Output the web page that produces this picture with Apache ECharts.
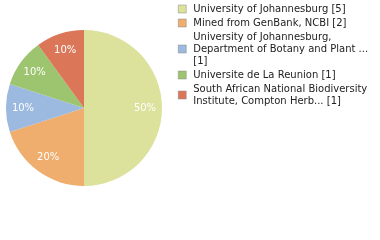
<!DOCTYPE html>
<html><head><meta charset="utf-8">
<script src="https://cdn.jsdelivr.net/npm/echarts@6/dist/echarts.min.js"></script>
<style>html,body{margin:0;padding:0;background:#fff}#c{width:380px;height:240px}</style>
</head><body><div id="c"></div>
<script>
var categories = [
  "University of Johannesburg",
  "Mined from GenBank, NCBI",
  "University of Johannesburg,\nDepartment of Botany and Plant ...\n",
  "Universite de La Reunion",
  "South African National Biodiversity\nInstitute, Compton Herb..."
];
var counts = [5, 2, 1, 1, 1];
var percentLabels = ["50%", "20%", "10%", "10%", "10%"];
var colors = ["#dce19c", "#efad6e", "#9cb9df", "#9dc46e", "#db7659"];

var data = categories.map(function (c, i) {
  return { name: c, value: counts[i], itemStyle: { color: colors[i] } };
});
var countByName = {};
categories.forEach(function (c, i) { countByName[c] = counts[i]; });

var chart = echarts.init(document.getElementById('c'), null, { renderer: 'canvas' });
chart.setOption({
  animation: false,
  legend: {
    orient: 'vertical',
    left: 178,
    top: 3,
    padding: 0,
    icon: 'rect',
    itemWidth: 8,
    itemHeight: 8,
    itemGap: 2,
    data: categories,
    formatter: function (name) {
      var n = countByName[name];
      return name + (name.charAt(name.length - 1) === '\n' ? '' : ' ') + '[' + n + ']';
    },
    textStyle: { fontFamily: 'DejaVu Sans', fontSize: 10, color: '#222', lineHeight: 12, padding: [0, 0, 0, 2] },
    itemStyle: { borderColor: '#888', borderWidth: 0.5 }
  },
  series: [
    {
      type: 'pie',
      center: [84, 108],
      radius: [0, 78],
      startAngle: 90,
      clockwise: true,
      data: data,
      label: { show: false },
      labelLine: { show: false },
      emphasis: { disabled: true }
    },
    {
      type: 'pie',
      center: [84, 108],
      radius: [38, 78],
      startAngle: 90,
      clockwise: true,
      silent: true,
      data: categories.map(function (c, i) {
        return { name: c + ' ', value: counts[i], itemStyle: { color: 'rgba(0,0,0,0)' } };
      }),
      label: {
        show: true,
        position: 'inside',
        formatter: function (p) { return percentLabels[p.dataIndex]; },
        color: '#fff',
        fontFamily: 'DejaVu Sans',
        fontSize: 10
      },
      labelLine: { show: false },
      emphasis: { disabled: true }
    }
  ]
});
</script>
</body></html>
